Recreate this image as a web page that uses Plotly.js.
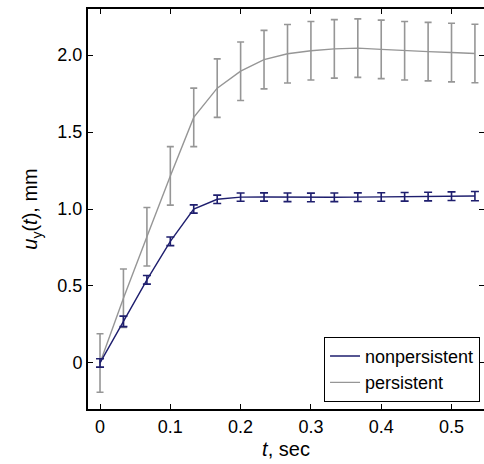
<!DOCTYPE html>
<html>
<head>
<meta charset="utf-8">
<script src="https://cdn.plot.ly/plotly-3.0.1.min.js"></script>
<style>html,body{margin:0;padding:0;background:#fff;}#chart{width:484px;height:464px;}</style>
</head>
<body>
<div id="chart"></div>
<script>
const tSec = [0, 0.0333, 0.0667, 0.1, 0.1333, 0.1667, 0.2, 0.2333, 0.2667, 0.3, 0.3333, 0.3667, 0.4, 0.4333, 0.4667, 0.5, 0.5333];
const nonpersistent = [0, 0.27, 0.54, 0.79, 1.0, 1.063, 1.077, 1.078, 1.076, 1.075, 1.076, 1.077, 1.078, 1.079, 1.081, 1.083, 1.084];
const nonpersistentErr = [0.027, 0.034, 0.028, 0.028, 0.027, 0.027, 0.027, 0.027, 0.028, 0.028, 0.028, 0.028, 0.028, 0.028, 0.028, 0.028, 0.03];
const persistent = [0, 0.42, 0.82, 1.215, 1.595, 1.785, 1.895, 1.97, 2.008, 2.028, 2.04, 2.045, 2.037, 2.028, 2.022, 2.016, 2.01];
const persistentErr = [0.19, 0.19, 0.19, 0.19, 0.19, 0.19, 0.19, 0.19, 0.19, 0.19, 0.19, 0.19, 0.19, 0.19, 0.19, 0.19, 0.19];
const xTickVals = [0, 0.1, 0.2, 0.3, 0.4, 0.5];
const xTickText = ['0', '0.1', '0.2', '0.3', '0.4', '0.5'];
const yTickVals = [0, 0.5, 1.0, 1.5, 2.0];
const yTickText = ['0', '0.5', '1.0', '1.5', '2.0'];

const navy = 'rgb(30,30,110)';
const grey = 'rgb(150,150,150)';
const font = 'Liberation Sans, Arial, sans-serif';

const traces = [
  {
    x: tSec, y: persistent, name: 'persistent', type: 'scatter', mode: 'lines',
    line: {color: grey, width: 1.4},
    error_y: {type: 'data', array: persistentErr, visible: true, color: grey, thickness: 1.6, width: 3.5}
  },
  {
    x: tSec, y: nonpersistent, name: 'nonpersistent', type: 'scatter', mode: 'lines',
    line: {color: navy, width: 1.4},
    error_y: {type: 'data', array: nonpersistentErr, visible: true, color: navy, thickness: 1.6, width: 4}
  }
];

const axisCommon = {
  showgrid: false, zeroline: false, showline: true, linecolor: '#000', linewidth: 2,
  mirror: 'allticks', ticks: 'inside', ticklen: 5, tickwidth: 1, tickcolor: '#000',
  tickfont: {family: font, size: 18, color: '#000'}
};

const layout = {
  width: 484, height: 464,
  margin: {l: 88, r: 0, t: 9, b: 55},
  paper_bgcolor: '#fff', plot_bgcolor: '#fff',
  showlegend: true,
  legend: {
    x: 0.99, y: 0.018, xanchor: 'right', yanchor: 'bottom',
    traceorder: 'reversed', bgcolor: '#fff', bordercolor: '#000', borderwidth: 1,
    font: {family: font, size: 18, color: '#000'}
  },
  xaxis: Object.assign({}, axisCommon, {
    range: [-0.0171, 0.5462], tickvals: xTickVals, ticktext: xTickText,
    title: {text: '<i>t</i>, sec', font: {family: font, size: 20, color: '#000'}, standoff: 6}
  }),
  yaxis: Object.assign({}, axisCommon, {
    range: [-0.299, 2.299], tickvals: yTickVals, ticktext: yTickText,
    title: {text: '<i>u</i><sub>y</sub>(<i>t</i>), mm', font: {family: font, size: 20, color: '#000'}, standoff: 14}
  })
};

Plotly.newPlot('chart', traces, layout, {displayModeBar: false, staticPlot: true});
</script>
</body>
</html>
